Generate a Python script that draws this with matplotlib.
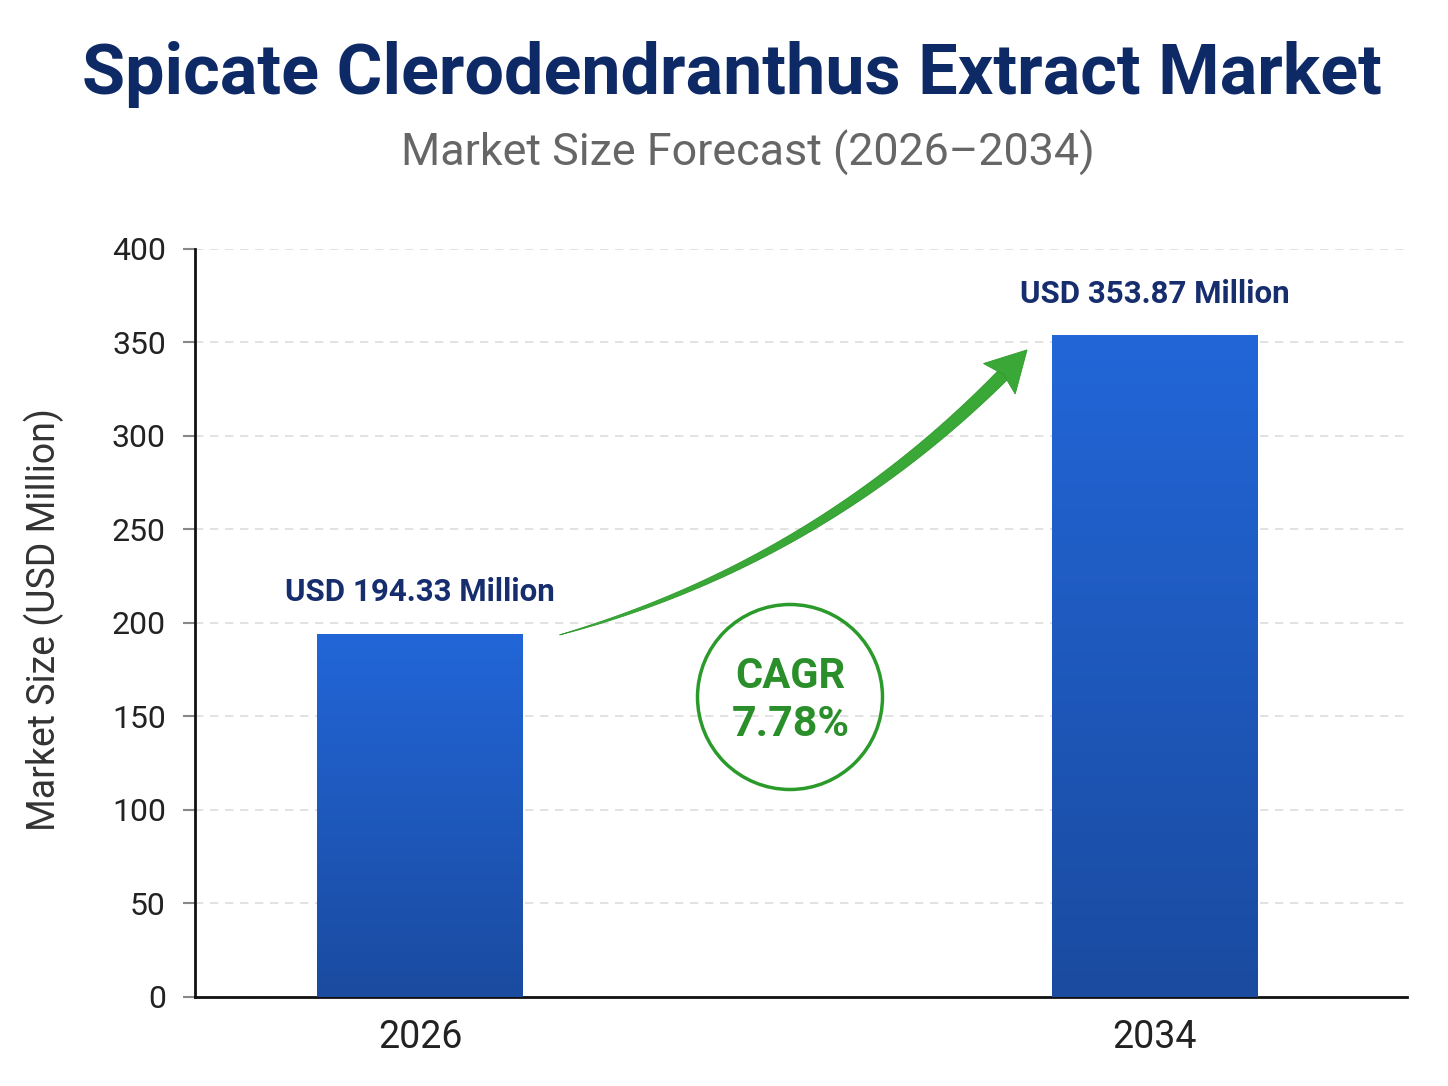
import numpy as np
import matplotlib.pyplot as plt
from matplotlib.colors import LinearSegmentedColormap
from matplotlib.patches import Polygon, Ellipse

plt.rcParams['font.family'] = ['Roboto', 'DejaVu Sans']

years = ['2026', '2034']
values = [194.33, 353.87]
value_labels = ['USD 194.33 Million', 'USD 353.87 Million']
cagr_label = 'CAGR'
cagr_value = '7.78%'
yticks = [0, 50, 100, 150, 200, 250, 300, 350, 400]

fig = plt.figure(figsize=(14.48, 10.86), dpi=100)
fig.patch.set_facecolor('white')
ax = fig.add_axes([0.1347, 0.0820, 0.837, 0.6888])

x = np.arange(len(years))
bars = ax.bar(x, values, width=0.279, color='none', zorder=3)

# vertical gradient on each bar
cmap = LinearSegmentedColormap.from_list('bb', ['#1a4ba0', '#2266d8'])
grad = np.linspace(0, 1, 256).reshape(-1, 1)
for b in bars:
    x0, y0 = b.get_x(), b.get_y()
    w, h = b.get_width(), b.get_height()
    im = ax.imshow(grad, cmap=cmap, origin='lower', aspect='auto',
                   extent=[x0, x0 + w, y0, y0 + h], zorder=3)
    im.set_clip_path(b)

for xi, v, lab in zip(x, values, value_labels):
    ax.text(xi, v + 22, lab, ha='center', va='center', fontsize=22.5,
            fontweight='bold', color='#162d6e', zorder=5)

ax.set_xlim(-0.306, 1.343)
ax.set_ylim(0, 400)
ax.set_yticks(yticks)
ax.set_xticks(x)
ax.set_xticklabels(years)
ax.tick_params(axis='y', labelsize=23, length=9, width=1.5, color='#888888',
               labelcolor='#222222', pad=12)
ax.tick_params(axis='x', labelsize=27, length=0, labelcolor='#222222', pad=16)
ax.grid(axis='y', color='#dddddd', linestyle=(0, (5, 4)), linewidth=1.2, zorder=0)
ax.set_axisbelow(True)
for s in ['top', 'right']:
    ax.spines[s].set_visible(False)
for s in ['left', 'bottom']:
    ax.spines[s].set_linewidth(2)
    ax.spines[s].set_color('#111111')
ax.set_ylabel('Market Size (USD Million)', fontsize=27, color='#333333')
ax.yaxis.set_label_coords(-0.108, 0.505)

# growth arrow: tapered curved shaft + triangular head, built in display space
fig.canvas.draw()
p0 = ax.transData.transform((0.19, 193.6))
pc = ax.transData.transform((0.562, 234.5))
p2 = ax.transData.transform((0.826, 346))
t = np.linspace(0, 1, 400)[:, None]
curve = (1 - t) ** 2 * p0 + 2 * (1 - t) * t * pc + t ** 2 * p2
tang = np.gradient(curve, axis=0)
tang /= np.linalg.norm(tang, axis=1)[:, None]
head_len, head_w, shaft_w = 40.0, 44.0, 13.0
dist_to_tip = np.linalg.norm(curve - p2, axis=1)
k = np.argmin(np.abs(dist_to_tip - head_len * 0.8))
seg = curve[:k + 1]
stang = tang[:k + 1]
norm = np.column_stack([-stang[:, 1], stang[:, 0]])
ww = shaft_w / 2 * (np.linspace(0, 1, k + 1) ** 0.8)
left = seg + norm * ww[:, None]
right = seg - norm * ww[:, None]
shaft = np.vstack([left, right[::-1]])
ax.add_patch(Polygon(shaft, closed=True, transform=None, facecolor='#3aa837',
                     edgecolor='#2f9a2d', linewidth=0.6, zorder=4))
d = (p2 - curve[k]) / np.linalg.norm(p2 - curve[k])
nd = np.array([-d[1], d[0]])
base = p2 - d * head_len
head = np.array([p2, base + nd * head_w / 2, base + d * 6, base - nd * head_w / 2])
ax.add_patch(Polygon(head, closed=True, transform=None, facecolor='#3aa837',
                     edgecolor='#2f9a2d', linewidth=0.6, zorder=4))

# CAGR circle
circ = Ellipse((790 / 1448, 1 - 697 / 1086), 185 / 1448, 185 / 1086,
               transform=fig.transFigure, facecolor='none', edgecolor='#2a9a2a',
               linewidth=2.5, zorder=6)
fig.patches.append(circ)
fig.text(790 / 1448, 1 - 676 / 1086, cagr_label, ha='center', va='center',
         fontsize=30, fontweight='bold', color='#2a8f2a')
fig.text(791 / 1448, 1 - 724 / 1086, cagr_value, ha='center', va='center',
         fontsize=31, fontweight='bold', color='#2a8f2a')

fig.text(0.5055, 1 - 75 / 1086, 'Spicate Clerodendranthus Extract Market',
         ha='center', va='center', fontsize=50.5, fontweight='bold', color='#0e2a66')
fig.text(0.5166, 1 - 153 / 1086, 'Market Size Forecast (2026\u20132034)',
         ha='center', va='center', fontsize=32.3, color='#666666')

fig.savefig('out.png', dpi=100)
